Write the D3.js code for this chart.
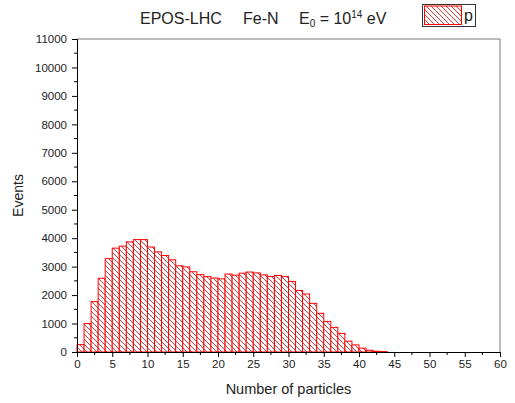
<!DOCTYPE html>
<html>
<head>
<meta charset="utf-8">
<script src="https://cdn.jsdelivr.net/npm/d3@7"></script>
<style>
    body { margin: 0; background: #fff; }
    text { font-family: Arial, "Liberation Sans", sans-serif; fill: #222; }
</style>
</head>
<body>
<div id="vis"></div>
<script>
// bin left edges (number of particles) and event counts
var binStarts = d3.range(0, 44);
var events = [260, 1000, 1770, 2590, 3280, 3650, 3720, 3870, 3950, 3950,
    3690, 3520, 3390, 3240, 3030, 2990, 2820, 2720, 2650, 2600,
    2570, 2740, 2700, 2770, 2810, 2780, 2710, 2650, 2690, 2650,
    2480, 2160, 2040, 1710, 1360, 1075, 865, 655, 380, 250,
    135, 60, 25, 15];
var xTicks = [0, 5, 10, 15, 20, 25, 30, 35, 40, 45, 50, 55, 60];
var yTicks = [0, 1000, 2000, 3000, 4000, 5000, 6000, 7000, 8000, 9000, 10000, 11000];
var seriesName = "p";

var width = 515, height = 403;
var margin = { top: 39, right: 15, bottom: 51, left: 77 };

var svg = d3.select('#vis').append('svg')
    .attr('width', width)
    .attr('height', height);

var x = d3.scaleLinear().domain([0, 60]).range([margin.left, width - margin.right]);
var y = d3.scaleLinear().domain([0, 11000]).range([height - margin.bottom, margin.top]);

// diagonal hatch "\\\"
var defs = svg.append('defs');
var pat = defs.append('pattern')
    .attr('id', 'hatch')
    .attr('patternUnits', 'userSpaceOnUse')
    .attr('width', 5)
    .attr('height', 5);
pat.append('rect').attr('width', 5).attr('height', 5).attr('fill', '#fff');
pat.append('path')
    .attr('d', 'M0,0L5,5M-1,4L1,6M4,-1L6,1')
    .attr('stroke', '#d83a3a')
    .attr('stroke-width', 1);

var bins = binStarts.map(function (d, i) { return { x0: d, x1: d + 1, v: events[i] }; });

svg.append('g').selectAll('rect')
    .data(bins)
    .enter().append('rect')
    .attr('x', d => x(d.x0))
    .attr('y', d => y(d.v))
    .attr('width', d => x(d.x1) - x(d.x0))
    .attr('height', d => y(0) - y(d.v))
    .attr('fill', 'url(#hatch)')
    .attr('stroke', '#ff0000')
    .attr('stroke-width', 1);

// frame top / right
svg.append('path')
    .attr('d', 'M' + x(0) + ',' + y(11000) + 'H' + x(60) + 'V' + y(0))
    .attr('fill', 'none')
    .attr('stroke', '#777')
    .attr('stroke-width', 1);

// axes
var xAxis = d3.axisBottom(x).tickValues(xTicks).tickSize(5).tickPadding(3);
var gx = svg.append('g')
    .attr('transform', 'translate(0,' + y(0) + ')')
    .call(xAxis);
gx.selectAll('line.minor')
    .data(d3.range(2.5, 60, 5))
    .enter().append('line')
    .attr('x1', d => x(d)).attr('x2', d => x(d))
    .attr('y1', 0).attr('y2', 3)
    .attr('stroke', '#000');

var yAxis = d3.axisLeft(y).tickValues(yTicks).tickSize(5).tickPadding(5).tickFormat(d3.format('d'));
var gy = svg.append('g')
    .attr('transform', 'translate(' + x(0) + ',0)')
    .call(yAxis);
gy.selectAll('line.minor')
    .data(d3.range(500, 11000, 1000))
    .enter().append('line')
    .attr('x1', 0).attr('x2', -3)
    .attr('y1', d => y(d)).attr('y2', d => y(d))
    .attr('stroke', '#000');

svg.selectAll('.domain').attr('stroke', '#000');
svg.selectAll('.tick text').style('font-size', '11.5px').style('font-family', 'Arial, "Liberation Sans", sans-serif').attr('fill', '#222');

svg.append('text')
    .attr('x', (x(0) + x(60)) / 2)
    .attr('y', 394)
    .attr('text-anchor', 'middle')
    .style('font-size', '14.5px')
    .text('Number of particles');

svg.append('text')
    .attr('transform', 'translate(23,' + ((y(0) + y(11000)) / 2) + ') rotate(-90)')
    .attr('text-anchor', 'middle')
    .style('font-size', '14px')
    .text('Events');

// title
var title = svg.append('text').attr('y', 24).style('font-size', '16px');
title.append('tspan').attr('x', 140).text('EPOS-LHC');
title.append('tspan').attr('x', 243).text('Fe-N');
title.append('tspan').attr('x', 299).text('E');
title.append('tspan').attr('dy', 3).style('font-size', '10px').text('0');
title.append('tspan').attr('dy', -3).text(' = 10');
title.append('tspan').attr('dy', -6).style('font-size', '10px').text('14');
title.append('tspan').attr('dy', 6).text(' eV');

// legend
svg.append('rect')
    .attr('x', 422.5).attr('y', 4.5)
    .attr('width', 53).attr('height', 22)
    .attr('fill', '#fff')
    .attr('stroke', '#333');
svg.append('rect')
    .attr('x', 424.5).attr('y', 6)
    .attr('width', 37).attr('height', 18.5)
    .attr('fill', 'url(#hatch)')
    .attr('stroke', '#ff0000');
svg.append('text')
    .attr('x', 464).attr('y', 21)
    .style('font-size', '16px')
    .text(seriesName);
</script>
</body>
</html>
